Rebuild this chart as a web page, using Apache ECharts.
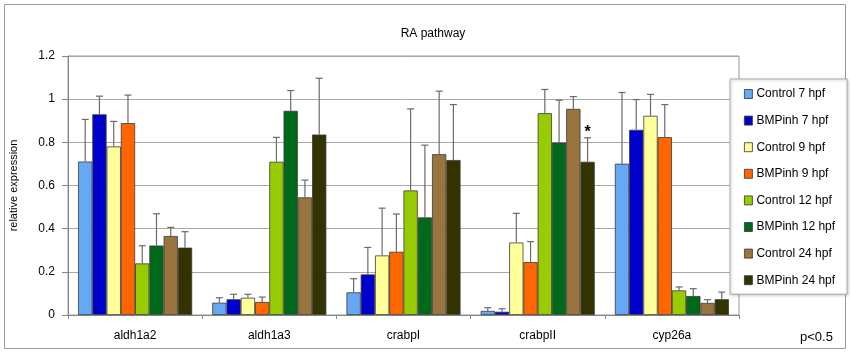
<!DOCTYPE html>
<html lang="en">
<head>
	<meta charset="UTF-8">
	<script src="https://cdn.jsdelivr.net/npm/echarts@6/dist/echarts.min.js"></script>
	<title>RA pathway</title>
	<style>
		body { margin: 0; background: #fff; }
		#chart { width: 850px; height: 354px; }
	</style>
</head>
<body>
	<div id="chart"></div>
	<script>
		// genes on the x axis
		var genes = ['aldh1a2', 'aldh1a3', 'crabpI', 'crabpII', 'cyp26a'];
		var seriesNames = ['Control 7 hpf', 'BMPinh 7 hpf', 'Control 9 hpf', 'BMPinh 9 hpf',
			'Control 12 hpf', 'BMPinh 12 hpf', 'Control 24 hpf', 'BMPinh 24 hpf'];
		var colors = ['#66a8f4', '#0000cc', '#ffff99', '#ff6600', '#99cc00', '#006a1a', '#99743f', '#333300'];

		// mean values, one array per condition (order = genes)
		var control7 = [0.711, 0.057, 0.105, 0.019, 0.701];
		var bmp7 = [0.930, 0.073, 0.188, 0.015, 0.858];
		var control9 = [0.781, 0.080, 0.276, 0.336, 0.923];
		var bmp9 = [0.889, 0.060, 0.293, 0.245, 0.824];
		var control12 = [0.239, 0.710, 0.577, 0.935, 0.114];
		var bmp12 = [0.322, 0.946, 0.452, 0.799, 0.088];
		var control24 = [0.366, 0.545, 0.745, 0.955, 0.056];
		var bmp24 = [0.312, 0.836, 0.718, 0.710, 0.073];

		// upper end of the error bars
		var control7Err = [0.906, 0.080, 0.168, 0.034, 1.031];
		var bmp7Err = [1.014, 0.096, 0.313, 0.029, 0.998];
		var control9Err = [0.897, 0.096, 0.495, 0.471, 1.022];
		var bmp9Err = [1.019, 0.083, 0.468, 0.340, 0.975];
		var control12Err = [0.321, 0.823, 0.955, 1.045, 0.130];
		var bmp12Err = [0.469, 1.040, 0.787, 0.995, 0.122];
		var control24Err = [0.406, 0.625, 1.037, 1.012, 0.071];
		var bmp24Err = [0.386, 1.097, 0.975, 0.821, 0.106];

		// significance marks: [gene index, series index, text]
		var signif = [[3, 7, '*']];

		var values = [control7, bmp7, control9, bmp9, control12, bmp12, control24, bmp24];
		var errTops = [control7Err, bmp7Err, control9Err, bmp9Err, control12Err, bmp12Err, control24Err, bmp24Err];

		var CAT_GAP = 0.15;
		var nSeries = seriesNames.length;

		// error bar data: [gene, value, top, series, mark]
		var errData = [];
		values.forEach(function (arr, s) {
			arr.forEach(function (v, g) {
				var mark = '';
				signif.forEach(function (m) { if (m[0] === g && m[1] === s) mark = m[2]; });
				errData.push([g, v, errTops[s][g], s, mark]);
			});
		});

		var chart = echarts.init(document.getElementById('chart'));

		var series = seriesNames.map(function (name, s) {
			return {
				name: name,
				type: 'bar',
				data: values[s],
				barGap: '0%',
				barCategoryGap: (CAT_GAP * 100) + '%',
				itemStyle: { color: colors[s], borderColor: '#3a3a3a', borderWidth: 0.8 }
			};
		});

		series.push({
			type: 'custom',
			name: 'err',
			z: 5,
			silent: true,
			data: errData,
			renderItem: function (params, api) {
				var g = api.value(0), v = api.value(1), top = api.value(2), s = api.value(3);
				var band = api.size([1, 0])[0];
				var groupW = band * (1 - CAT_GAP);
				var bw = groupW / nSeries;
				var base = api.coord([g, 0]);
				var x = base[0] - groupW / 2 + (s + 0.5) * bw;
				var y1 = api.coord([g, v])[1];
				var y2 = api.coord([g, top])[1];
				var st = { stroke: '#6a6a6a', lineWidth: 1.2 };
				var children = [
					{ type: 'line', shape: { x1: x, y1: y1, x2: x, y2: y2 }, style: st },
					{ type: 'line', shape: { x1: x - 3.5, y1: y2, x2: x + 3.5, y2: y2 }, style: st }
				];
				var mark = errData[params.dataIndex][4];
				if (mark) {
					children.push({
						type: 'text',
						style: { text: mark, x: x, y: y2 - 5, align: 'center', verticalAlign: 'middle',
							font: 'bold 16px "Liberation Sans", Arial', fill: '#000' }
					});
				}
				return { type: 'group', children: children };
			}
		});

		var option = {
			animation: false,
			textStyle: { fontFamily: '"Liberation Sans", Arial, sans-serif' },
			title: {
				text: 'RA pathway',
				left: 428,
				textAlign: 'center',
				top: 23,
				textStyle: { fontSize: 12, fontWeight: 'normal', color: '#000' }
			},
			legend: {
				orient: 'vertical',
				left: 730,
				top: 79,
				data: seriesNames,
				itemWidth: 8,
				itemHeight: 9,
				itemGap: 14.6,
				padding: [9, 12, 8, 14],
				borderColor: '#aaa',
				borderWidth: 1,
				backgroundColor: '#fff',
				shadowColor: 'rgba(0,0,0,0.25)',
				shadowBlur: 3,
				shadowOffsetX: 1,
				shadowOffsetY: 1,
				icon: 'rect',
				itemStyle: { borderColor: '#333', borderWidth: 0.8 },
				textStyle: { fontSize: 12, color: '#000', padding: [0, 0, 0, -1] }
			},
			grid: { left: 63, right: 111, top: 56, bottom: 39, show: true, borderColor: '#999', borderWidth: 1 },
			xAxis: {
				type: 'category',
				data: genes,
				axisLine: { lineStyle: { color: '#888' } },
				axisTick: { show: true, length: 4, lineStyle: { color: '#888' } },
				axisLabel: { fontSize: 12, color: '#000', margin: 15 }
			},
			yAxis: {
				type: 'value',
				min: 0,
				max: 1.2,
				interval: 0.2,
				name: 'relative expression',
				nameLocation: 'middle',
				nameGap: 49,
				nameTextStyle: { fontSize: 11, color: '#000' },
				axisLine: { show: true, lineStyle: { color: '#888' } },
				axisTick: { show: true, length: 6, lineStyle: { color: '#888' } },
				axisLabel: { fontSize: 12, color: '#000', margin: 13, formatter: function (v) { return String(Math.round(v * 10) / 10); } },
				splitLine: { lineStyle: { color: '#a8a8a8' } }
			},
			graphic: [
				{ type: 'rect', shape: { x: 4.5, y: 4.5, width: 841, height: 344 }, style: { fill: 'none', stroke: '#999', lineWidth: 1 }, silent: true },
				{ type: 'text', left: 800, top: 331, style: { text: 'p<0.5', font: '13px "Liberation Sans", Arial', fill: '#000' } }
			],
			series: series
		};
		chart.setOption(option);
	</script>
</body>
</html>
